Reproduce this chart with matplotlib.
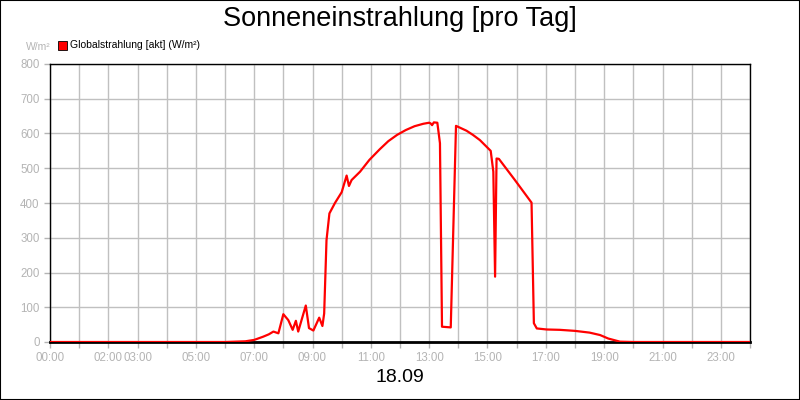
import matplotlib
matplotlib.use("Agg")
import matplotlib.pyplot as plt
from matplotlib.patches import Rectangle

plt.rcParams["font.family"] = ["Liberation Sans", "DejaVu Sans"]

# Zeit in Stunden, Globalstrahlung in W/m²
stunden = [0, 6.0, 6.7, 7.0, 7.3, 7.5, 7.66, 7.83, 8.0, 8.17, 8.32, 8.43, 8.51,
           8.77, 8.88, 9.03, 9.23, 9.34, 9.40, 9.48, 9.58, 9.77, 10.0, 10.17,
           10.25, 10.34, 10.63, 10.95, 11.31, 11.6, 11.9, 12.2, 12.5, 12.8,
           13.0, 13.05, 13.1, 13.16, 13.28, 13.37, 13.44, 13.74, 13.92, 14.28,
           14.5, 14.74, 15.11, 15.2, 15.26, 15.31, 15.39, 15.94, 16.51, 16.59,
           16.69, 17.03, 17.48, 18.0, 18.5, 18.86, 19.14, 19.54, 20.0, 24.0]
strahlung = [0, 0, 2, 6, 15, 22, 30, 25, 80, 63, 35, 61, 30,
             105, 40, 33, 70, 46, 82, 293, 370, 400, 431, 479,
             449, 466, 490, 524, 555, 578, 596, 610, 621, 628,
             631, 629, 624, 632, 631, 572, 44, 42, 622, 608,
             596, 581, 550, 490, 188, 528, 527, 466, 401, 54,
             39, 36, 35, 32, 27, 20, 10, 1, 0, 0]

x_ticks = list(range(0, 25))
x_labels = {0: "00:00", 2: "02:00", 3: "03:00", 5: "05:00", 7: "07:00",
            9: "09:00", 11: "11:00", 13: "13:00", 15: "15:00", 17: "17:00",
            19: "19:00", 21: "21:00", 23: "23:00"}
y_ticks = list(range(0, 801, 100))

grau = "#b4b4b4"

fig = plt.figure(figsize=(8, 4), dpi=100)
ax = fig.add_axes([0.0625, 0.145, 0.875, 0.695])

ax.plot(stunden, strahlung, color="red", lw=1.6, zorder=3)

ax.set_xlim(0, 24)
ax.set_ylim(0, 800)
ax.set_xticks(x_ticks)
ax.set_xticklabels([x_labels.get(h, "") for h in x_ticks])
ax.set_yticks(y_ticks)
ax.grid(True, color="#c0c0c0", lw=1)
ax.set_axisbelow(True)
ax.tick_params(colors=grau, labelsize=8.3, length=4, width=1)
for s in ax.spines.values():
    s.set_color("black")
    s.set_linewidth(1)
ax.spines["bottom"].set_linewidth(2)

fig.text(0.5, 0.953, "Sonneneinstrahlung [pro Tag]", ha="center", va="center", fontsize=19.5)
fig.text(0.5, 0.055, "18.09", ha="center", va="center", fontsize=14)
fig.text(0.048, 0.882, "W/m²", ha="center", va="center", fontsize=7.5, color=grau)

fig.patches.append(Rectangle((0.0725, 0.875), 0.011, 0.022, transform=fig.transFigure,
                             facecolor="red", edgecolor="black", lw=0.6))
fig.text(0.088, 0.887, "Globalstrahlung [akt] (W/m²)", ha="left", va="center", fontsize=7.5)

fig.patches.append(Rectangle((0, 0), 1, 1, transform=fig.transFigure,
                             fill=False, edgecolor="black", lw=1.5))

fig.savefig("out.png", dpi=100)
